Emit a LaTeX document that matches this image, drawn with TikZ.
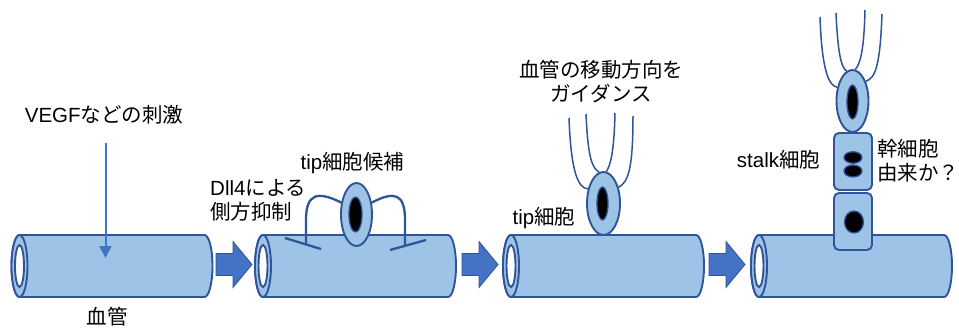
\documentclass[tikz,border=0pt]{standalone}
\usepackage{fontspec}
\setmainfont{Liberation Sans}
\newfontfamily\jp{Noto Sans CJK JP}
\usetikzlibrary{arrows.meta,shapes.geometric}

\definecolor{vesselfill}{HTML}{9DC3E6}
\definecolor{deepblue}{HTML}{2F5597}
\definecolor{accent}{HTML}{4472C4}

\tikzset{
  vessel/.style={draw=deepblue, fill=vesselfill, line width=1.9pt},
  lumen/.style={draw=deepblue, fill=white, line width=1.9pt},
  shiftarrow/.style={draw=deepblue, fill=accent, line width=0.8pt, line join=miter},
  stimulus/.style={draw=accent, line width=2pt, -{Triangle[width=12pt,length=12pt]}},
  cellbody/.style={ellipse, draw=deepblue, fill=vesselfill, line width=1.9pt, inner sep=0pt},
  nucleus/.style={ellipse, draw=deepblue, fill=black, line width=1.3pt, inner sep=0pt},
  stalkcell/.style={rectangle, rounded corners=5pt, draw=deepblue, fill=vesselfill,
    line width=1.9pt, inner sep=0pt, minimum width=38pt, minimum height=57pt},
  filo/.style={draw=deepblue, line width=1.5pt},
  inhibit/.style={draw=deepblue, line width=2.3pt},
  txt/.style={inner sep=0pt, font=\fontsize{20.5}{24.5}\selectfont, text=black},
  txtjp/.style={inner sep=0pt, font=\fontsize{20.5}{24.5}\selectfont\jp, text=black},
}

% a vessel segment: #1 = x of the open (front) end
\newcommand\drawvessel[1]{%
  \draw[vessel] (#1,235) -- (#1+185,235)
    arc[start angle=-90,end angle=90,x radius=8,y radius=31]
    -- (#1,297) arc[start angle=90,end angle=270,x radius=8,y radius=31] -- cycle;
  \draw[vessel] (#1,266) ellipse[x radius=8,y radius=31];
  \draw[lumen] (#1,266) ellipse[x radius=4.5,y radius=21];}

% block arrow between stages: #1 = x of the tail
\newcommand\stagearrow[1]{%
  \draw[shiftarrow] (#1,253.5) -- (#1+17,253.5) -- (#1+17,241.5) -- (#1+36,264.5)
    -- (#1+17,287.5) -- (#1+17,275.5) -- (#1,275.5) -- cycle;}

\begin{document}
\begin{tikzpicture}[x=1pt,y=-1pt]
\useasboundingbox (0,0) rectangle (959,327);
\fill[white] (0,0) rectangle (959,327);

% vessels and stage arrows
\drawvessel{19.5}
\drawvessel{263}
\drawvessel{511}
\drawvessel{759}
\stagearrow{216}
\stagearrow{462}
\stagearrow{709}

% stage 1: stimulus
\node[txt] (stimtext) at (104,115) {VEGF{\jp などの刺激}};
\coordinate (stimstart) at (105.5,143);
\coordinate (stimend) at (105.5,258);
\draw[stimulus] (stimstart) -- (stimend);
\node[txtjp] (vesseltext) at (107,317) {血管};

% stage 2: tip cell candidate with lateral inhibition
\node[txt, align=left, anchor=west] (dlltext) at (210,200.5) {Dll4{\jp による}\\{\jp 側方抑制}};
\node[txt] (candtext) at (352.5,163) {tip{\jp 細胞候補}};
\node[cellbody, minimum width=31pt, minimum height=63pt] (cand) at (356.5,214.5) {};
\node[nucleus, minimum width=13pt, minimum height=35pt] (candnuc) at (355.5,214.5) {};
\coordinate (stemL) at (306,244.4);
\coordinate (barL1) at (285,238);
\coordinate (barL2) at (321,249);
\coordinate (stemR) at (405,245.8);
\coordinate (barR1) at (390,250);
\coordinate (barR2) at (426,240);
\draw[inhibit] (cand.142) .. controls (318,191) and (306,193) .. (306,220) -- (stemL);
\draw[inhibit] (barL1) -- (barL2);
\draw[inhibit] (cand.38) .. controls (394,191) and (405,193) .. (405,220) -- (stemR);
\draw[inhibit] (barR1) -- (barR2);

% stage 3: tip cell guiding migration
\node[txtjp, align=center] (guidetext) at (601,81.5) {血管の移動方向を\\ガイダンス};
\node[txt] (tiptext) at (544,218) {tip{\jp 細胞}};
\node[cellbody, minimum width=33pt, minimum height=63pt] (tip3) at (603.5,203.5) {};
\node[nucleus, minimum width=11pt, minimum height=33pt] (tip3nuc) at (602.5,203.5) {};
\coordinate (fa) at (569,118);
\coordinate (fb) at (586,114);
\coordinate (fc) at (615,113);
\coordinate (fd) at (633,116);
\draw[filo] (fa) .. controls (571,172) and (578,188) .. (tip3.137);
\draw[filo] (fb) .. controls (588,158) and (592,168) .. (tip3.98);
\draw[filo] (fc) .. controls (614,155) and (610,166) .. (tip3.85);
\draw[filo] (fd) .. controls (633,170) and (628,182) .. (tip3.47);

% stage 4: sprout with stalk cells
\node[stalkcell] (stalkA) at (853,161.5) {};
\node[stalkcell] (stalkB) at (853,221.5) {};
\node[nucleus, minimum width=18pt, minimum height=11.5pt] (stalkAnuc1) at (853,157.5) {};
\node[nucleus, minimum width=18pt, minimum height=12pt] (stalkAnuc2) at (853,171) {};
\node[nucleus, minimum width=19pt, minimum height=22pt] (stalkBnuc) at (854,222) {};
\node[cellbody, minimum width=32pt, minimum height=62pt] (tip4) at (852.5,101) {};
\node[nucleus, minimum width=11pt, minimum height=34pt] (tip4nuc) at (852.5,102) {};
\coordinate (ga) at (820,17);
\coordinate (gb) at (836,13);
\coordinate (gc) at (865,10);
\coordinate (gd) at (882,14);
\draw[filo] (ga) .. controls (822,75) and (830,86) .. (tip4.138);
\draw[filo] (gb) .. controls (838,58) and (842,68) .. (tip4.101);
\draw[filo] (gc) .. controls (864,52) and (860,64) .. (tip4.85);
\draw[filo] (gd) .. controls (880,68) and (875,78) .. (tip4.56);
\node[txt] (stalktext) at (778.5,160) {stalk{\jp 細胞}};
\node[txtjp, align=left, anchor=west] (origintext) at (877,160.5) {幹細胞\\由来か？};
\end{tikzpicture}
\end{document}
